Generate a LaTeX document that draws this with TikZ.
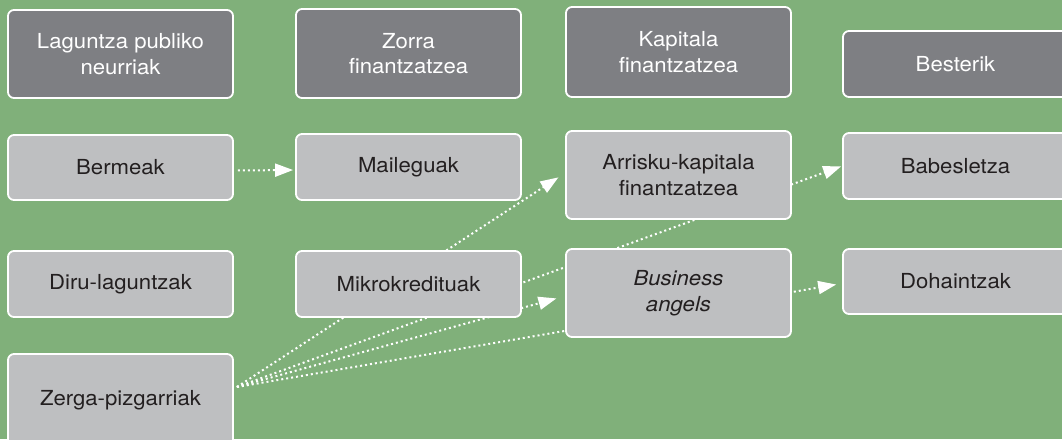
\documentclass[tikz,border=0pt]{standalone}
\usepackage{fontspec}
\setmainfont{TeX Gyre Heros}[FakeStretch=1.07]
\usetikzlibrary{arrows.meta}
\definecolor{bggreen}{RGB}{128,176,122}
\definecolor{darkbox}{RGB}{126,127,131}
\definecolor{lightbox}{RGB}{190,191,193}
\definecolor{boxtext}{RGB}{35,31,32}
\pgfdeclarelayer{bglayer}
\pgfdeclarelayer{linelayer}
\pgfsetlayers{bglayer,linelayer,main}
\tikzset{
  boxbase/.style={draw=white, line width=1.8pt, rounded corners=6pt, minimum width=225pt,
    inner sep=0pt, align=center, font=\fontsize{20.7}{25.5}\selectfont},
  headbox/.style={boxbase, fill=darkbox, text=white},
  itembox/.style={boxbase, fill=lightbox, text=boxtext},
  conn/.style={draw=white, line width=2pt, dash pattern=on 2pt off 3pt,
    -{Triangle[length=18pt,width=13pt,fill=white]}}
}
\begin{document}
\begin{tikzpicture}[x=1pt,y=-1pt]
\useasboundingbox (0,0) rectangle (1062,439);
\begin{pgfonlayer}{bglayer}
\fill[bggreen] (0,0) rectangle (1062,439);
\end{pgfonlayer}
\clip (0,0) rectangle (1062,439);
% header row
\node[headbox, minimum height=88pt] (h1) at (120.5,54) {Laguntza publiko\\neurriak};
\node[headbox, minimum height=89pt] (h2) at (408.5,53.5) {Zorra\\finantzatzea};
\node[headbox, minimum height=90pt] (h3) at (678.5,52) {Kapitala\\finantzatzea};
\node[headbox, minimum height=66pt] (h4) at (955.5,64) {Besterik};
% row 2
\node[itembox, minimum height=65pt] (bermeak) at (120.5,167.5) {Bermeak};
\node[itembox, minimum height=66pt] (maileguak) at (408.5,167) {Maileguak};
\node[itembox, minimum height=88pt] (arrisku) at (678.5,175) {Arrisku-kapitala\\finantzatzea};
\node[itembox, minimum height=66pt] (babesletza) at (955.5,166) {Babesletza};
% row 3
\node[itembox, minimum height=66pt] (diru) at (120.5,284) {Diru-laguntzak};
\node[itembox, minimum height=66pt] (mikro) at (408.5,284) {Mikrokredituak};
\node[itembox, minimum height=88pt] (business) at (678.5,293) {\itshape Business\\\itshape angels};
\node[itembox, minimum height=65pt] (dohaintzak) at (955.5,281.5) {Dohaintzak};
% row 4
\node[itembox, minimum height=92pt] (zerga) at (120.5,400) {Zerga-pizgarriak};
\coordinate (zs) at ([xshift=3pt,yshift=13pt]zerga.east);
% connectors
\begin{pgfonlayer}{linelayer}
\draw[conn, shorten <=4pt, shorten >=2pt] ([yshift=-3pt]bermeak.east) -- ([yshift=-3pt]maileguak.west);
\draw[conn, shorten >=8pt] (zs) -- ([yshift=2pt]arrisku.west);
\draw[conn, shorten >=1pt] (zs) -- (babesletza.west);
\draw[conn, shorten >=9pt] (zs) -- ([yshift=-3pt]business.west);
\draw[conn, shorten >=6pt] (zs) -- ([yshift=-2pt]dohaintzak.west);
\end{pgfonlayer}
\end{tikzpicture}
\end{document}
